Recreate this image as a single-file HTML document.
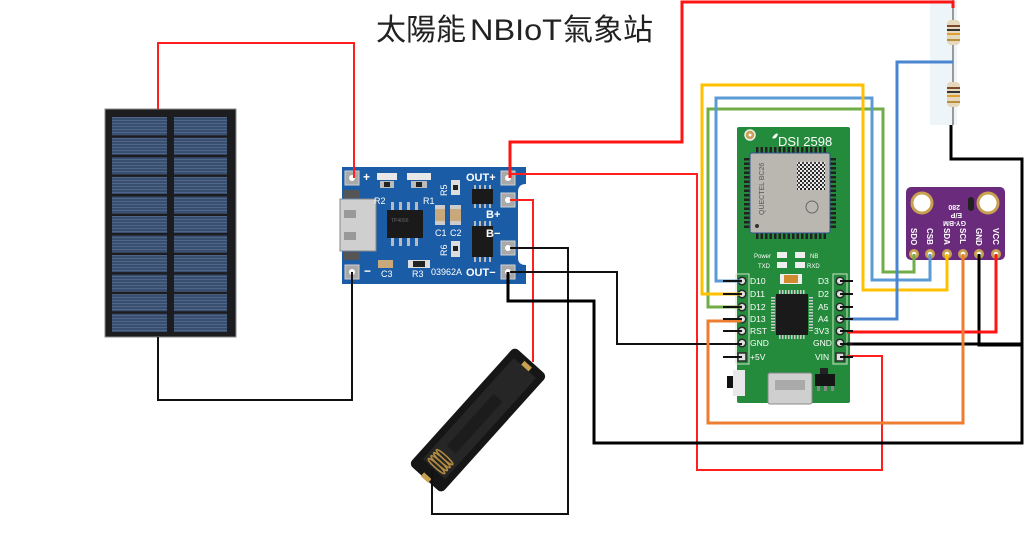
<!DOCTYPE html>
<html><head><meta charset="utf-8">
<style>
html,body{margin:0;padding:0;background:#fff;}
svg{display:block;}
</style></head><body>
<svg width="1024" height="546" viewBox="0 0 1024 546" xmlns="http://www.w3.org/2000/svg" font-family="'Liberation Sans', sans-serif">
<defs>
<pattern id="cell" width="4" height="3" patternUnits="userSpaceOnUse"><rect width="4" height="3" fill="#394f70"/><rect width="4" height="1" fill="#4f668a"/></pattern>
<pattern id="qr" width="4" height="4" patternUnits="userSpaceOnUse"><rect width="4" height="4" fill="#e8e8e8"/><rect width="2" height="2" fill="#222"/><rect x="2" y="2" width="2" height="2" fill="#444"/></pattern>
</defs>
<rect width="1024" height="546" fill="#fff"/>

<!-- Title -->
<g font-family="'Liberation Sans','Noto Sans CJK TC',sans-serif" font-size="30" fill="#222">
<text x="376" y="40">太陽能</text>
<text x="470" y="40" textLength="92" lengthAdjust="spacingAndGlyphs">NBIoT</text>
<text x="563" y="40">氣象站</text>
</g>

<!-- Solar panel -->
<rect x="105" y="109" width="131" height="228" fill="#1d1d20" stroke="#8a8a8a" stroke-width="1"/>
<rect x="112" y="117" width="55" height="215" fill="url(#cell)"/>
<rect x="174" y="117" width="53" height="215" fill="url(#cell)"/>
<g stroke="#1d1d20" stroke-width="2.5">
<line x1="110" y1="136.5" x2="230" y2="136.5"/><line x1="110" y1="156" x2="230" y2="156"/>
<line x1="110" y1="175.6" x2="230" y2="175.6"/><line x1="110" y1="195.2" x2="230" y2="195.2"/>
<line x1="110" y1="214.7" x2="230" y2="214.7"/><line x1="110" y1="234.3" x2="230" y2="234.3"/>
<line x1="110" y1="253.8" x2="230" y2="253.8"/><line x1="110" y1="273.4" x2="230" y2="273.4"/>
<line x1="110" y1="292.9" x2="230" y2="292.9"/><line x1="110" y1="312.5" x2="230" y2="312.5"/>
</g>

<!-- Charger module -->
<path d="M342,167 H526 V184 Q518,184 518,192 V258 Q518,265 526,265 V284 H342 Z" fill="#1b5ca6"/>
<rect x="340" y="199" width="36" height="52" fill="#cfcfcf" stroke="#888" stroke-width="1"/>
<rect x="344" y="210" width="12" height="8" fill="#999"/><rect x="344" y="232" width="12" height="8" fill="#999"/>
<rect x="344" y="190" width="16" height="8" fill="#555"/><rect x="344" y="252" width="16" height="8" fill="#555"/>
<!-- pads -->
<g fill="#a9a9a9" stroke="#d0d0d0" stroke-width="1">
<rect x="345" y="171" width="14" height="14"/><rect x="345" y="265" width="14" height="14"/>
<rect x="501" y="171" width="14" height="14"/><rect x="501" y="193" width="14" height="14"/>
<rect x="501" y="241" width="14" height="14"/><rect x="501" y="265" width="14" height="14"/>
</g>
<g fill="#fff">
<circle cx="352" cy="178" r="3"/><circle cx="352" cy="272" r="3"/>
<circle cx="508" cy="178" r="3"/><circle cx="508" cy="200" r="3"/>
<circle cx="508" cy="248" r="3"/><circle cx="508" cy="272" r="3"/>
</g>
<!-- LEDs / resistors -->
<rect x="377" y="173" width="20" height="7" fill="#e8e8e8"/><rect x="380" y="181" width="14" height="7" fill="#bbb"/><rect x="384" y="182" width="6" height="5" fill="#222"/>
<rect x="407" y="173" width="24" height="7" fill="#e8e8e8"/><rect x="411" y="181" width="16" height="7" fill="#bbb"/><rect x="416" y="182" width="6" height="5" fill="#222"/>
<!-- TP4056 -->
<g fill="#bbb"><rect x="391" y="202" width="3" height="8"/><rect x="399" y="202" width="3" height="8"/><rect x="407" y="202" width="3" height="8"/><rect x="415" y="202" width="3" height="8"/>
<rect x="391" y="238" width="3" height="8"/><rect x="399" y="238" width="3" height="8"/><rect x="407" y="238" width="3" height="8"/><rect x="415" y="238" width="3" height="8"/></g>
<rect x="387" y="210" width="36" height="28" fill="#1a1a1a"/>
<text x="391" y="222" font-size="5" fill="#666">TP4056</text>
<!-- caps -->
<rect x="435" y="205" width="10" height="20" fill="#c9a97c"/><rect x="435" y="205" width="10" height="4" fill="#ccc"/><rect x="435" y="221" width="10" height="4" fill="#ccc"/>
<rect x="450" y="205" width="11" height="20" fill="#c9a97c"/><rect x="450" y="205" width="11" height="4" fill="#ccc"/><rect x="450" y="221" width="11" height="4" fill="#ccc"/>
<rect x="451" y="180" width="9" height="15" fill="#ddd"/><rect x="453" y="185" width="5" height="5" fill="#222"/>
<rect x="451" y="241" width="9" height="16" fill="#ddd"/><rect x="453" y="246" width="5" height="5" fill="#222"/>
<rect x="378" y="260" width="15" height="8" fill="#c9a97c"/>
<rect x="408" y="260" width="22" height="8" fill="#ddd"/><rect x="413" y="261" width="12" height="6" fill="#222"/>
<!-- small chips -->
<g fill="#bbb"><rect x="474" y="185" width="2" height="4"/><rect x="479" y="185" width="2" height="4"/><rect x="484" y="185" width="2" height="4"/><rect x="489" y="185" width="2" height="4"/>
<rect x="474" y="204" width="2" height="4"/><rect x="479" y="204" width="2" height="4"/><rect x="484" y="204" width="2" height="4"/><rect x="489" y="204" width="2" height="4"/>
<rect x="474" y="221" width="2" height="5"/><rect x="479" y="221" width="2" height="5"/><rect x="484" y="221" width="2" height="5"/><rect x="489" y="221" width="2" height="5"/>
<rect x="474" y="257" width="2" height="5"/><rect x="479" y="257" width="2" height="5"/><rect x="484" y="257" width="2" height="5"/><rect x="489" y="257" width="2" height="5"/></g>
<rect x="472" y="189" width="21" height="15" fill="#1a1a1a"/>
<rect x="472" y="226" width="21" height="31" fill="#1a1a1a"/>
<!-- charger labels -->
<g fill="#fff" font-weight="bold" font-size="11">
<text x="466" y="181">OUT+</text>
<text x="486" y="218">B+</text>
<text x="486" y="237">B−</text>
<text x="466" y="276">OUT−</text>
<text x="363" y="181" font-size="12">+</text>
<text x="364" y="275" font-size="12">−</text>
</g>
<g fill="#fff" font-size="9">
<text x="431" y="275">03962A</text>
<text x="374" y="204">R2</text><text x="423" y="204">R1</text>
<text x="435" y="236">C1</text><text x="450" y="236">C2</text>
<text x="381" y="277">C3</text><text x="412" y="277">R3</text>
<text transform="translate(447,196) rotate(-90)">R5</text>
<text transform="translate(447,256) rotate(-90)">R6</text>
</g>

<!-- Battery holder -->
<g transform="translate(478,420) rotate(-48)">
<rect x="-79" y="-22" width="158" height="44" rx="5" fill="#161616"/>
<rect x="-66" y="-15" width="136" height="30" fill="#262626"/>
<rect x="-40" y="-6" width="70" height="12" fill="#1c1c1c"/>
<g stroke="#b08a40" stroke-width="1.5" fill="none">
<ellipse cx="-62" cy="0" rx="2" ry="11"/><ellipse cx="-58" cy="0" rx="2" ry="11"/><ellipse cx="-54" cy="0" rx="2" ry="11"/><ellipse cx="-50" cy="0" rx="2" ry="11"/>
</g>
<rect x="-80" y="-5" width="5" height="10" fill="#c9a050"/>
<rect x="70" y="-5" width="5" height="10" fill="#c9a050"/>
</g>

<!-- Resistor divider -->
<rect x="930" y="0" width="27" height="125" fill="#eef5f8"/>
<line x1="953" y1="0" x2="953" y2="125" stroke="#9a9a9a" stroke-width="2"/>
<g>
<rect x="947" y="20" width="13" height="25" rx="4" fill="#e6d8bc"/>
<rect x="947" y="25" width="13" height="2" fill="#7a4a2a"/><rect x="947" y="29" width="13" height="2" fill="#333"/><rect x="947" y="33" width="13" height="2" fill="#e0a030"/><rect x="947" y="39" width="13" height="2" fill="#b89040"/>
<rect x="947" y="82" width="13" height="25" rx="4" fill="#e6d8bc"/>
<rect x="947" y="87" width="13" height="2" fill="#7a4a2a"/><rect x="947" y="91" width="13" height="2" fill="#333"/><rect x="947" y="95" width="13" height="2" fill="#e0a030"/><rect x="947" y="101" width="13" height="2" fill="#b89040"/>
</g>

<!-- DSI 2598 board -->
<rect x="737" y="127" width="113" height="276" rx="2" fill="#248b3c"/>
<circle cx="750" cy="135" r="5" fill="#c9a050" stroke="#eee" stroke-width="1.5"/>
<circle cx="750" cy="135" r="1.5" fill="#fff"/>
<text x="778" y="146" font-size="13" fill="#fff">DSI 2598</text>
<path d="M772,138 q4,-6 6,-4 q-2,6 -6,4z" fill="#fff"/>
<!-- module pins -->
<g stroke="#222" stroke-dasharray="2.5 2">
<line x1="756" y1="150" x2="826" y2="150" stroke-width="6"/>
<line x1="756" y1="236" x2="826" y2="236" stroke-width="6"/>
<line x1="747" y1="158" x2="747" y2="228" stroke-width="6"/>
<line x1="833" y1="158" x2="833" y2="228" stroke-width="6"/>
</g>
<rect x="750" y="153" width="80" height="80" rx="2" fill="#b9b7b0" stroke="#2f5590" stroke-width="1"/>
<rect x="797" y="162" width="28" height="28" fill="url(#qr)"/>
<circle cx="812" cy="207" r="6" fill="none" stroke="#666" stroke-width="1"/>
<circle cx="757" cy="226" r="2" fill="#333"/>
<text transform="translate(764,215) rotate(-90)" font-size="7" fill="#555">QUECTEL BC26</text>
<!-- LEDs -->
<g font-size="6" fill="#fff">
<text x="754" y="258">Power</text><text x="810" y="258">NB</text>
<text x="758" y="268">TXD</text><text x="807" y="268">RXD</text>
</g>
<rect x="777" y="252" width="10" height="6" fill="#eee"/><rect x="795" y="252" width="10" height="6" fill="#eee"/>
<rect x="777" y="262" width="10" height="6" fill="#eee"/><rect x="795" y="262" width="10" height="6" fill="#eee"/>
<rect x="780" y="274" width="22" height="10" fill="#eee"/><rect x="784" y="275" width="14" height="8" fill="#d08a30"/>
<!-- MCU -->
<g stroke="#ccc" stroke-dasharray="1.5 1.5" stroke-width="4">
<line x1="779" y1="292" x2="805" y2="292"/><line x1="779" y1="337" x2="805" y2="337"/>
<line x1="773" y1="297" x2="773" y2="331"/><line x1="811" y1="297" x2="811" y2="331"/>
</g>
<rect x="776" y="294" width="32" height="41" fill="#1a1a1a"/>
<!-- header outlines -->
<rect x="736" y="274" width="13" height="90" fill="none" stroke="#cfe6c8" stroke-width="1"/>
<rect x="833" y="274" width="14" height="90" fill="none" stroke="#cfe6c8" stroke-width="1"/>
<!-- header pins -->
<g fill="#e0e0e0" stroke="#2a2a2a" stroke-width="1.5">
<circle cx="742" cy="281" r="3.8"/><circle cx="742" cy="294" r="3.8"/><circle cx="742" cy="307" r="3.8"/><circle cx="742" cy="319" r="3.8"/><circle cx="742" cy="331" r="3.8"/><circle cx="742" cy="343" r="3.8"/>
<rect x="738" y="353" width="8" height="8"/>
<circle cx="840" cy="281" r="3.8"/><circle cx="840" cy="294" r="3.8"/><circle cx="840" cy="307" r="3.8"/><circle cx="840" cy="319" r="3.8"/><circle cx="840" cy="331" r="3.8"/><circle cx="840" cy="343" r="3.8"/>
<rect x="836" y="353" width="8" height="8"/>
</g>
<g fill="#fff" font-size="8.5">
<text x="750" y="284">D10</text><text x="750" y="297">D11</text><text x="750" y="310">D12</text><text x="750" y="322">D13</text><text x="750" y="334">RST</text><text x="750" y="346">GND</text><text x="750" y="360">+5V</text>
<text x="818" y="284">D3</text><text x="818" y="297">D2</text><text x="818" y="310">A5</text><text x="818" y="322">A4</text><text x="814" y="334">3V3</text><text x="813" y="346">GND</text><text x="815" y="360">VIN</text>
</g>
<!-- bottom parts -->
<rect x="733" y="370" width="12" height="26" fill="#e8e8e8"/><rect x="727" y="376" width="6" height="12" fill="#111"/>
<rect x="768" y="373" width="44" height="31" rx="2" fill="#cfcfcf" stroke="#888"/>
<rect x="775" y="380" width="30" height="10" fill="#aaa"/>
<rect x="820" y="368" width="8" height="6" fill="#222"/><rect x="815" y="374" width="20" height="12" fill="#151515"/>
<rect x="817" y="386" width="3" height="5" fill="#888"/><rect x="824" y="386" width="3" height="5" fill="#888"/><rect x="831" y="386" width="3" height="5" fill="#888"/>

<!-- BMP280 -->
<rect x="906" y="187" width="99" height="73" rx="5" fill="#6b2b7d"/>
<circle cx="922" cy="203" r="10" fill="#fff" stroke="#c9a050" stroke-width="3"/>
<circle cx="988" cy="203" r="10" fill="#fff" stroke="#c9a050" stroke-width="3"/>
<text transform="translate(960,205) rotate(180)" font-size="7" fill="#fff" font-weight="bold">280</text>
<text transform="translate(962,213) rotate(180)" font-size="7" fill="#fff" font-weight="bold">E/P</text>
<text transform="translate(966,221) rotate(180)" font-size="7" fill="#fff" font-weight="bold">GY-BM</text>
<rect x="968" y="197" width="6" height="14" rx="3" fill="#222"/>
<g fill="#fff" font-size="8" font-weight="bold">
<text transform="translate(911,228) rotate(90)">SDO</text>
<text transform="translate(927,228) rotate(90)">CSB</text>
<text transform="translate(944,228) rotate(90)">SDA</text>
<text transform="translate(960,228) rotate(90)">SCL</text>
<text transform="translate(976,228) rotate(90)">GND</text>
<text transform="translate(993,228) rotate(90)">VCC</text>
</g>
<g fill="#c9a050"><circle cx="914" cy="254" r="5"/><circle cx="930" cy="254" r="5"/><circle cx="947" cy="254" r="5"/><circle cx="963" cy="254" r="5"/><circle cx="979" cy="254" r="5"/><circle cx="996" cy="254" r="5"/></g>
<g fill="#fff"><circle cx="914" cy="254" r="2.3"/><circle cx="930" cy="254" r="2.3"/><circle cx="947" cy="254" r="2.3"/><circle cx="963" cy="254" r="2.3"/><circle cx="979" cy="254" r="2.3"/><circle cx="996" cy="254" r="2.3"/></g>

<!-- WIRES -->
<g fill="none" stroke-linejoin="miter" stroke-linecap="butt">
<!-- solar -->
<polyline points="158,109 158,43 354,43 354,178" stroke="#ff1f1f" stroke-width="2"/>
<polyline points="158,337 158,400 352,400 352,272" stroke="#111" stroke-width="2"/>
<!-- thick red to divider -->
<polyline points="510,178 510,142 682,142 682,2 953,2 953,8" stroke="#ff1414" stroke-width="3"/>
<!-- red OUT+ to VIN -->
<polyline points="510,174 697,174 697,470 882,470 882,356 847,356" stroke="#ff1f1f" stroke-width="2"/>
<!-- B+ red -->
<polyline points="510,200 533,200 533,362" stroke="#ff1f1f" stroke-width="2"/>
<!-- B- black -->
<polyline points="510,248 568,248 568,514 432,514 432,470" stroke="#111" stroke-width="2"/>
<!-- OUT- thin black to GND -->
<polyline points="510,272 617,272 617,344 742,344" stroke="#111" stroke-width="2"/>
<!-- thick black ground loop -->
<polyline points="508,272 508,301 594,301 594,443 1022,443 1022,159 951,159 951,125" stroke="#000" stroke-width="3"/>
<polyline points="847,344 1022,344" stroke="#000" stroke-width="3"/>
<polyline points="979,254 979,345 1022,345" stroke="#000" stroke-width="3"/>
<!-- VCC red -->
<polyline points="996,254 996,332 847,332" stroke="#ff1414" stroke-width="3"/>
<!-- colored signals -->
<polyline points="914,254 914,272 883,272 883,109 708,109 708,307 742,307" stroke="#70ad47" stroke-width="3"/>
<polyline points="930,254 930,280 872,280 872,98 716,98 716,281 742,281" stroke="#5b9bd5" stroke-width="3"/>
<polyline points="947,254 947,290 863,290 863,85 702,85 702,294 742,294" stroke="#ffc000" stroke-width="3"/>
<polyline points="963,254 963,423 708,423 708,321 742,321" stroke="#ed7d31" stroke-width="3"/>
<polyline points="847,319 897,319 897,62 953,62" stroke="#4a86d0" stroke-width="3"/>
<!-- pin stubs -->
<g stroke="#111" stroke-width="2">
<line x1="723" y1="281" x2="742" y2="281"/><line x1="723" y1="294" x2="742" y2="294"/><line x1="723" y1="307" x2="742" y2="307"/>
<line x1="723" y1="319" x2="742" y2="319"/><line x1="723" y1="331" x2="742" y2="331"/><line x1="723" y1="344" x2="742" y2="344"/><line x1="723" y1="357" x2="742" y2="357"/>
<line x1="840" y1="281" x2="853" y2="281"/><line x1="840" y1="294" x2="853" y2="294"/><line x1="840" y1="307" x2="853" y2="307"/>
<line x1="840" y1="319" x2="853" y2="319"/><line x1="840" y1="331" x2="853" y2="331"/><line x1="840" y1="344" x2="853" y2="344"/><line x1="840" y1="357" x2="853" y2="357"/>
</g>
</g>
</svg>
</body></html>
